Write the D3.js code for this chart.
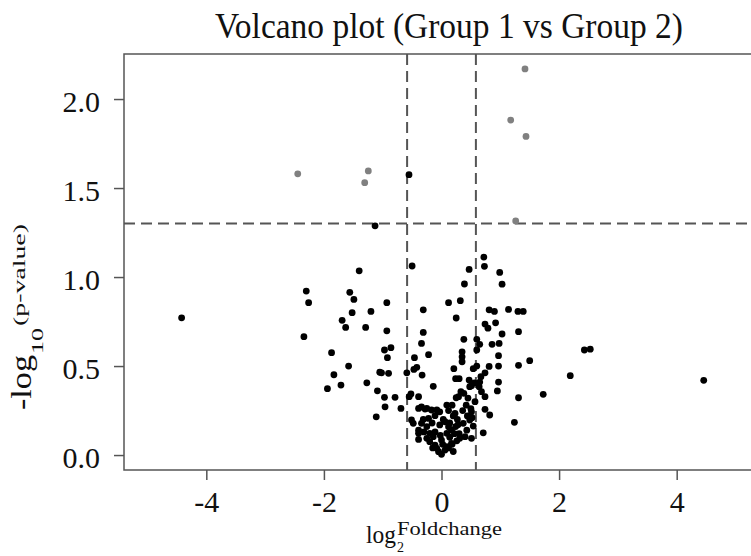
<!DOCTYPE html>
<html>
<head>
<meta charset="utf-8">
<script src="https://cdn.jsdelivr.net/npm/d3@7"></script>
<style>
  body { margin: 0; background: #fff; }
  text { font-family: "Liberation Serif", "Times New Roman", serif; }
</style>
</head>
<body>
<div id="volcano"></div>
<script>
// log2 fold change and -log10(p) per protein
var logFC = [
  -2.445, -1.245, -1.306, 1.177, 1.42, 1.437, 1.262,
  -0.553, -1.13, 0.72,
  -4.42, -2.30, -2.26, -2.34, -1.40, -1.56, -1.49, -1.52, -1.20, -1.69, -1.63, -1.29,
  -1.87, -1.58, -1.83, -1.71, -1.94, -1.27, -1.05, -1.09, -1.11, -0.96,
  4.46, 2.43, 2.53, 2.19, 1.73, 1.50, 1.31, 1.31, 1.24, 1.31, 1.14, 1.30, 1.39, 1.03, 1.03, 0.99,
  -0.50, -0.93, -0.31, 0.12, -0.93, -0.31, -0.34, -0.86, -0.97, -0.92, -0.22, -0.46, -0.42, -0.47,
  -1.02, -0.90, -0.59, -0.33, -0.14, -0.97, -0.79, -0.52, -0.55, -0.39,
  0.73, 0.47, 0.39, 0.32, 0.81, 0.90, 0.25, 0.74, 0.79, 0.92, 0.38, 0.60, 0.65, 0.86, 0.98, 0.60,
  0.35, 0.35, 0.35, 0.97, 0.21, 0.60, 0.54, 0.81, 0.97, 0.74, 0.67, 0.24, 0.30, 0.47, 0.65, 0.56,
  0.97, 0.48, 0.51, 0.64, 0.33, 0.38, 0.29, 0.68, 0.74, 0.95, 0.25,
  -0.69, -0.34, -0.25, -0.48, -0.39, -0.39, -0.08, -0.03, 0.09, 0.82, 0.71, 0.54, 0.74,
  0.57, 0.45, 0.42, 0.50, 0.44, 0.36, 0.52,
  0.18, 0.12, 0.20, 0.14, 0.24, 0.22, 0.14, 0.26, 0.18, 0.12, 0.20, 0.30, 0.28, 0.27,
  -0.39, -0.28, -0.17, -0.51, -0.34, -0.39, -0.22, -0.11, 0.23, 0.37, 0.43, 0.40, 0.31, 0.17,
  0.06, 0.00, -0.05, -0.11, -0.20, -0.25, -0.14, 0.00, 0.09, 0.12, 0.17, 0.51, 0.48, 0.51,
  0.09, -0.08, 0.06, -0.03, -0.20, -0.11, 0.03, -0.31, -0.25, -0.16, -0.30, -0.15, 0.02, -0.02
];
var negLogP = [
  1.58, 1.596, 1.53, 1.882, 2.169, 1.79, 1.315,
  1.575, 1.288, 1.112,
  0.771, 0.921, 0.856, 0.665, 1.035, 0.914, 0.874, 0.80, 0.807, 0.757, 0.717, 0.717,
  0.575, 0.50, 0.451, 0.393, 0.373, 0.406, 0.465, 0.361, 0.215, 0.271,
  0.42, 0.59, 0.595, 0.446, 0.341, 0.53, 0.504, 0.322, 0.184, 0.693, 0.818, 0.807, 0.807, 0.68, 0.96, 1.026,
  1.062, 0.856, 0.816, 0.856, 0.698, 0.689, 0.627, 0.603, 0.59, 0.547, 0.564, 0.547, 0.493, 0.481,
  0.462, 0.459, 0.462, 0.449, 0.386, 0.324, 0.324, 0.343, 0.328, 0.328,
  1.06, 1.043, 0.961, 0.867, 0.816, 0.807, 0.77, 0.736, 0.713, 0.743, 0.65, 0.65, 0.622, 0.622, 0.627, 0.59,
  0.58, 0.552, 0.524, 0.558, 0.485, 0.50, 0.485, 0.498, 0.50, 0.462, 0.44, 0.429, 0.429, 0.421, 0.41, 0.406,
  0.41, 0.384, 0.39, 0.384, 0.356, 0.347, 0.328, 0.356, 0.328, 0.36, 0.322,
  0.262, 0.271, 0.262, 0.178, 0.122, 0.088, 0.253, 0.243, 0.281, 0.225, 0.125, 0.163, 0.257,
  0.30, 0.32, 0.28, 0.26, 0.22, 0.25, 0.21,
  0.28, 0.25, 0.22, 0.18, 0.16, 0.12, 0.10, 0.08, 0.06, 0.04, 0.02, 0.12, 0.17, 0.20,
  0.262, 0.258, 0.253, 0.197, 0.178, 0.14, 0.206, 0.221, 0.234, 0.178, 0.14, 0.103, 0.094, 0.066,
  0.028, 0.004, 0.019, 0.056, 0.075, 0.094, 0.103, 0.084, 0.122, 0.159, 0.14, 0.243, 0.197, 0.094,
  0.047, 0.038, 0.187, 0.169, 0.122, 0.13, 0.20, 0.20, 0.16, 0.18, 0.13, 0.04, 0.06, 0.11
];
var xTicks = [-4, -2, 0, 2, 4];
var yTicks = [0, 0.5, 1, 1.5, 2];
var fcCut = 0.585;   // log2(1.5)
var pCut = 1.301;    // -log10(0.05)

var svgWidth = 751, svgHeight = 556;
var plotLeft = 124, plotRight = 759, plotTop = 54, plotBottom = 470;
var lineCol = "#555";
var textCol = "#111";

var svg = d3.select("#volcano")
  .append("svg")
  .attr("width", svgWidth)
  .attr("height", svgHeight);

var xScale = d3.scaleLinear().domain([-5.4, 5.4]).range([plotLeft, plotRight]);
var yScale = d3.scaleLinear().domain([-0.084, 2.253]).range([plotBottom, plotTop]);

// axes
var bottomAxis = d3.axisBottom(xScale).tickValues(xTicks).tickSize(10).tickPadding(11)
  .tickFormat(d => String(d));
var leftAxis = d3.axisLeft(yScale).tickValues(yTicks).tickSize(10).tickPadding(14)
  .tickFormat(d3.format(".1f"));

svg.append("g")
  .attr("class", "bottomAxis")
  .attr("transform", "translate(0," + plotBottom + ")")
  .call(bottomAxis);
svg.append("g")
  .attr("class", "leftAxis")
  .attr("transform", "translate(" + plotLeft + ",0)")
  .call(leftAxis);

svg.selectAll(".domain").remove();
svg.selectAll(".tick line").attr("stroke", lineCol).attr("stroke-width", 1.5);
svg.selectAll(".tick text")
  .attr("font-size", 30)
  .attr("fill", textCol)
  .style("font-family", "'Liberation Serif', serif");
svg.selectAll(".leftAxis .tick text").attr("dy", "0.42em");

// box
svg.append("rect")
  .attr("x", plotLeft).attr("y", plotTop)
  .attr("width", plotRight - plotLeft).attr("height", plotBottom - plotTop)
  .attr("fill", "none").attr("stroke", lineCol).attr("stroke-width", 1.5);

// cut-off lines
[-fcCut, fcCut].forEach(function(v) {
  svg.append("line")
    .attr("x1", xScale(v)).attr("x2", xScale(v))
    .attr("y1", plotTop).attr("y2", plotBottom)
    .attr("stroke", lineCol).attr("stroke-width", 2).attr("stroke-dasharray", "11,6");
});
svg.append("line")
  .attr("x1", plotLeft).attr("x2", plotRight)
  .attr("y1", yScale(pCut)).attr("y2", yScale(pCut))
  .attr("stroke", lineCol).attr("stroke-width", 2).attr("stroke-dasharray", "11,6");

// points
var pts = logFC.map((d, i) => ({ fc: d, p: negLogP[i] }));
svg.append("g").selectAll("circle")
  .data(pts)
  .enter()
  .append("circle")
  .attr("cx", d => xScale(d.fc))
  .attr("cy", d => yScale(d.p))
  .attr("r", 3.4)
  .attr("fill", d => (d.p > pCut && Math.abs(d.fc) > fcCut) ? "#808080" : "#000");

// title
svg.append("text")
  .attr("x", 449).attr("y", 38)
  .attr("text-anchor", "middle")
  .attr("font-size", 35)
  .attr("textLength", 468)
  .attr("lengthAdjust", "spacingAndGlyphs")
  .attr("fill", textCol)
  .text("Volcano plot (Group 1 vs Group 2)");

// x label: log_2^Foldchange
var xl = svg.append("g").attr("transform", "translate(366,543)");
xl.append("text").attr("font-size", 26).attr("textLength", 30)
  .attr("lengthAdjust", "spacingAndGlyphs").attr("fill", textCol).text("log");
xl.append("text").attr("x", 31).attr("y", 9).attr("font-size", 14).attr("fill", textCol).text("2");
xl.append("text").attr("x", 31).attr("y", -8).attr("font-size", 18).attr("textLength", 105)
  .attr("lengthAdjust", "spacingAndGlyphs").attr("fill", textCol).text("Foldchange");

// y label: -log_10^(p-value), read bottom to top
var yl = svg.append("g").attr("transform", "translate(31,410) rotate(-90)");
yl.append("text").attr("font-size", 29).attr("textLength", 55)
  .attr("lengthAdjust", "spacingAndGlyphs").attr("fill", textCol).text("-log");
yl.append("text").attr("x", 56).attr("y", 12).attr("font-size", 17).attr("textLength", 26)
  .attr("lengthAdjust", "spacingAndGlyphs").attr("fill", textCol).text("10");
yl.append("text").attr("x", 84).attr("y", -6).attr("font-size", 16).attr("textLength", 102)
  .attr("lengthAdjust", "spacingAndGlyphs").attr("fill", textCol).text("(p-value)");
</script>
</body>
</html>
